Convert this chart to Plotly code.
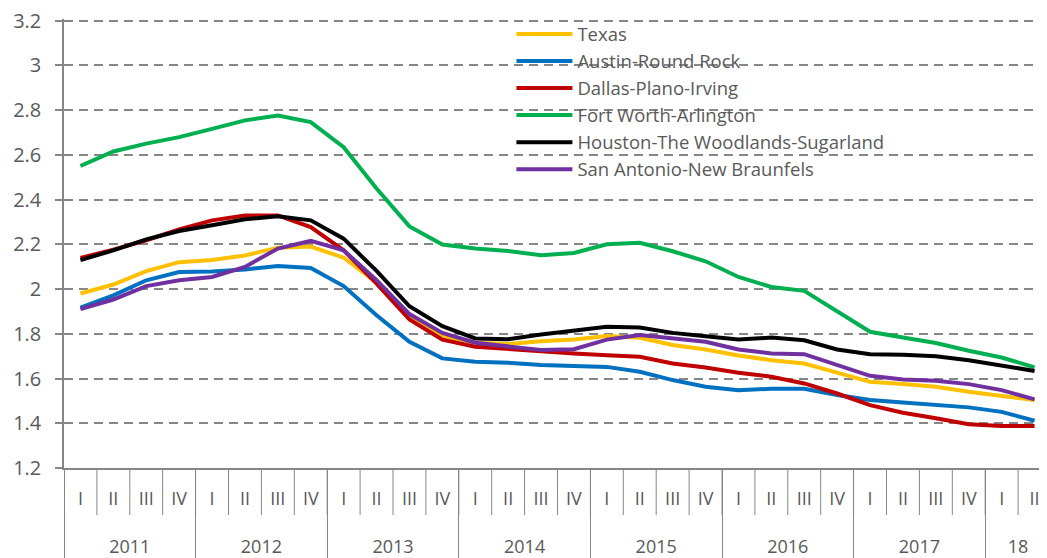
import plotly.graph_objects as go

# Quarterly series, 2011 Q1 .. 2018 Q2
years = ["2011"] * 4 + ["2012"] * 4 + ["2013"] * 4 + ["2014"] * 4 + ["2015"] * 4 + ["2016"] * 4 + ["2017"] * 4 + ["18"] * 2
quarters = ["I", "II", "III", "IV"] * 7 + ["I", "II"]

texas = [1.98, 2.02, 2.08, 2.12, 2.13, 2.15, 2.185, 2.19, 2.14, 2.03,
         1.88, 1.79, 1.76, 1.754, 1.767, 1.774, 1.79, 1.782, 1.75, 1.73,
         1.703, 1.682, 1.667, 1.626, 1.585, 1.575, 1.563, 1.541, 1.521, 1.504]
austin = [1.917, 1.972, 2.039, 2.076, 2.078, 2.087, 2.103, 2.094, 2.013, 1.883,
          1.764, 1.69, 1.675, 1.67, 1.66, 1.655, 1.652, 1.63, 1.593, 1.563,
          1.548, 1.554, 1.554, 1.526, 1.504, 1.493, 1.481, 1.471, 1.451, 1.411]
dallas = [2.139, 2.176, 2.218, 2.266, 2.307, 2.329, 2.329, 2.277, 2.173, 2.024,
          1.864, 1.774, 1.742, 1.731, 1.722, 1.712, 1.704, 1.697, 1.667, 1.649,
          1.626, 1.608, 1.578, 1.533, 1.481, 1.447, 1.422, 1.396, 1.388, 1.388]
fort_worth = [2.55, 2.615, 2.65, 2.679, 2.716, 2.754, 2.776, 2.746, 2.634, 2.449,
              2.28, 2.199, 2.181, 2.17, 2.151, 2.161, 2.2, 2.207, 2.169, 2.124,
              2.054, 2.009, 1.992, 1.898, 1.809, 1.783, 1.759, 1.724, 1.694, 1.65]
houston = [2.129, 2.173, 2.222, 2.259, 2.285, 2.312, 2.325, 2.307, 2.225, 2.081,
           1.923, 1.834, 1.779, 1.776, 1.797, 1.816, 1.831, 1.828, 1.804, 1.789,
           1.774, 1.783, 1.771, 1.73, 1.709, 1.706, 1.7, 1.682, 1.66, 1.634]
san_antonio = [1.91, 1.953, 2.013, 2.039, 2.054, 2.099, 2.181, 2.215, 2.173, 2.04,
               1.888, 1.804, 1.76, 1.742, 1.727, 1.731, 1.774, 1.794, 1.779, 1.764,
               1.73, 1.712, 1.709, 1.66, 1.612, 1.596, 1.59, 1.575, 1.548, 1.507]

names = ["Texas", "Austin-Round Rock", "Dallas-Plano-Irving", "Fort Worth-Arlington",
         "Houston-The Woodlands-Sugarland", "San Antonio-New Braunfels"]
colors = ["#FFC000", "#0070C0", "#C00000", "#00B050", "#000000", "#7030A0"]
series = [texas, austin, dallas, fort_worth, houston, san_antonio]

# a tall blank second line under each quarter pushes the year row down
quarter_labels = [q + "<br><span style='font-size:44px'>\u00a0</span>" for q in quarters]

fig = go.Figure()
for name, color, vals in zip(names, colors, series):
    fig.add_trace(go.Scatter(x=[years, quarter_labels], y=vals, name=name, mode="lines",
                             line=dict(color=color, width=4)))

axis_gray = "#868686"
text_gray = "#595959"
x_range = [-0.5, 29.5]
plot_h = 449

# short separators between quarters (axis range -> paper fraction)
span = x_range[1] - x_range[0]
for k in range(1, len(quarters)):
    xp = (k - 0.5 - x_range[0]) / span
    fig.add_shape(type="line", xref="paper", yref="paper", x0=xp, x1=xp, y0=0, y1=-47 / plot_h,
                  line=dict(color=axis_gray, width=1))

fig.update_layout(
    width=1047, height=558,
    margin=dict(l=56, r=4, t=11, b=98),
    plot_bgcolor="white", paper_bgcolor="white",
    font=dict(family="Open Sans", color=text_gray, size=17),
    legend=dict(x=0.4533, y=1.008, xanchor="left", yanchor="top", itemwidth=56,
                bgcolor="rgba(0,0,0,0)", font=dict(size=18.5, color=text_gray),
                tracegroupgap=0),
    xaxis=dict(type="multicategory", range=x_range, automargin=False,
               showline=True, linecolor=axis_gray, linewidth=1.5,
               ticks="", ticklabelstandoff=14,
               showdividers=True, dividercolor=axis_gray, dividerwidth=1,
               tickfont=dict(size=18, color=text_gray), showgrid=False),
    yaxis=dict(range=[1.2, 3.207], dtick=0.2, tick0=1.2, automargin=False,
               showline=True, linecolor=axis_gray, linewidth=1.5,
               ticks="outside", ticklen=7, tickcolor=axis_gray, tickwidth=1.5,
               ticklabelstandoff=10, ticklabeloverflow="allow",
               showgrid=True, gridcolor=axis_gray, gridwidth=1.5, griddash="9px,6px",
               zeroline=False, tickfont=dict(size=20, color=text_gray)),
)

fig.write_html("out.html")
